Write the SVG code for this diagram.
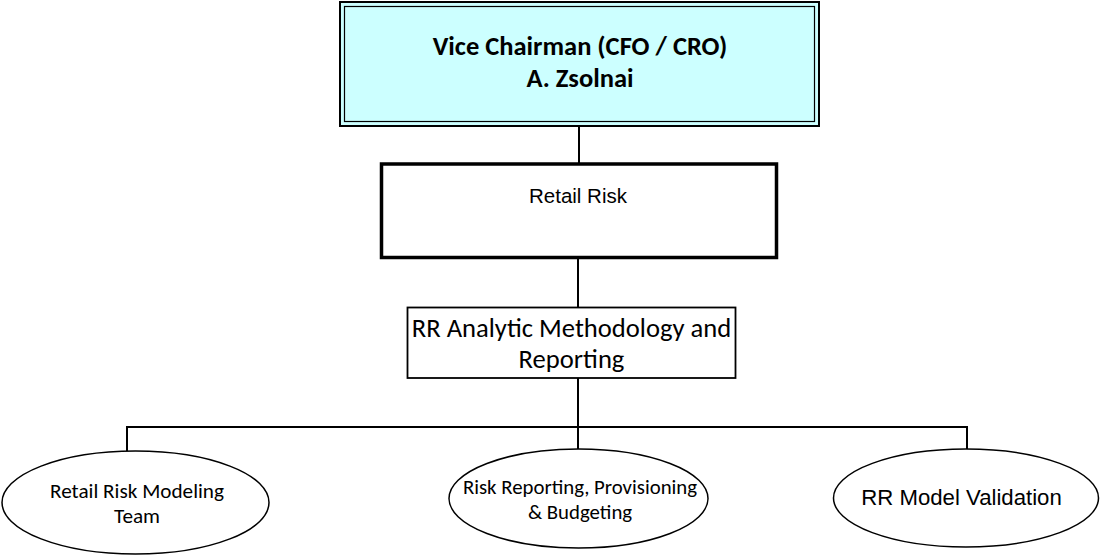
<svg xmlns="http://www.w3.org/2000/svg" width="1101" height="556" viewBox="0 0 1101 556">
<style>
.cal{font-family:Carlito,Lato,"Open Sans",sans-serif;fill:#000;text-anchor:middle}
.ar{font-family:"Liberation Sans",Arial,sans-serif;fill:#000;text-anchor:middle}
.ln{stroke:#000;stroke-width:2;fill:none}
.ell{fill:#fff;stroke:#000;stroke-width:1.5}
</style>
<rect width="1101" height="556" fill="#fff"/>
<g id="connectors" class="ln">
<line x1="579" y1="126" x2="579" y2="163"/>
<line x1="578" y1="258" x2="578" y2="307"/>
<line x1="578" y1="378" x2="578" y2="449"/>
<polyline points="127,451 127,427 967,427 967,449"/>
</g>
<g id="vice-chairman">
<rect x="340" y="2" width="479" height="124" fill="#CCFFFF" stroke="#000" stroke-width="2"/>
<rect x="344.5" y="6.5" width="470" height="115" fill="#CCFFFF" stroke="#000" stroke-width="1.2"/>
<text class="cal" x="580" y="55" font-size="26.5" font-weight="bold">Vice Chairman (CFO / CRO)</text>
<text class="cal" x="580" y="87" font-size="26.5" font-weight="bold">A. Zsolnai</text>
</g>
<g id="retail-risk">
<rect x="381.5" y="164" width="395" height="93.5" fill="#fff" stroke="#000" stroke-width="3.5"/>
<text class="ar" x="578" y="203" font-size="20.5">Retail Risk</text>
</g>
<g id="rr-analytic">
<rect x="407.5" y="307.5" width="328" height="70.5" fill="#fff" stroke="#000" stroke-width="1.8"/>
<text class="cal" x="571.5" y="337" font-size="26.6">RR Analytic Methodology and</text>
<text class="cal" x="571.5" y="368" font-size="26.6">Reporting</text>
</g>
<g id="modeling-team">
<ellipse class="ell" cx="135.5" cy="502.5" rx="133.5" ry="51.5"/>
<text class="cal" x="137" y="498" font-size="21.2">Retail Risk Modeling</text>
<text class="cal" x="137" y="523" font-size="21.2">Team</text>
</g>
<g id="risk-reporting">
<ellipse class="ell" cx="578.5" cy="498.5" rx="129.5" ry="49.5"/>
<text class="cal" x="580" y="494" font-size="20.8">Risk Reporting, Provisioning</text>
<text class="cal" x="580" y="519" font-size="20.8">&amp; Budgeting</text>
</g>
<g id="model-validation">
<ellipse class="ell" cx="966" cy="498" rx="132.5" ry="49"/>
<text class="ar" x="961.5" y="505" font-size="22.2">RR Model Validation</text>
</g>
</svg>
